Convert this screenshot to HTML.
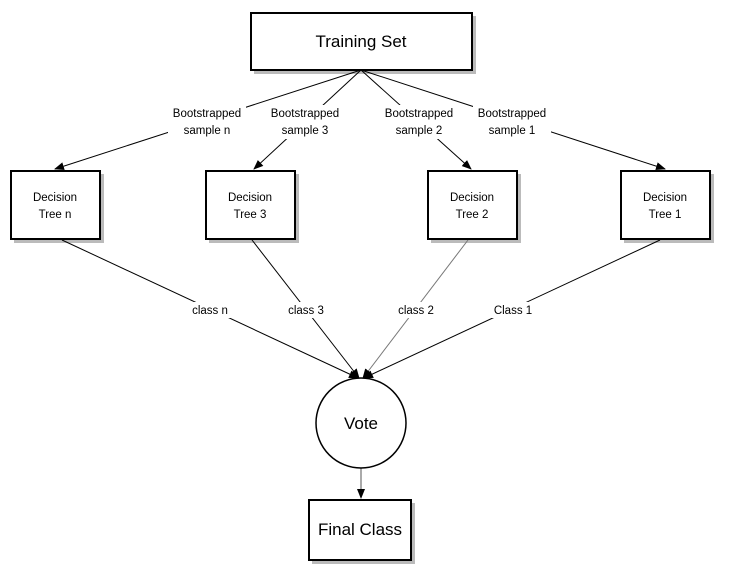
<!DOCTYPE html>
<html><head><style>
body{margin:0;background:#fff;}
svg text{font-family:"Liberation Sans",Arial,sans-serif;fill:#000;}
</style></head><body>
<svg width="730" height="580" viewBox="0 0 730 580" xmlns="http://www.w3.org/2000/svg">
<defs>
<marker id="a" markerWidth="10" markerHeight="10" refX="9" refY="5" orient="auto" markerUnits="userSpaceOnUse">
<path d="M0,1 L10,5 L0,9 z" fill="#000"/>
</marker>
</defs>
<!-- shadows -->
<g fill="#bbb">
<rect x="254" y="16" width="222" height="58"/>
<rect x="14" y="174" width="90" height="69"/>
<rect x="209" y="174" width="90" height="69"/>
<rect x="431" y="174" width="90" height="69"/>
<rect x="624" y="174" width="90" height="69"/>
<rect x="312" y="503" width="103" height="61"/>
</g>
<!-- top connectors -->
<g stroke="#000" stroke-width="1" fill="none">
<line x1="361" y1="70" x2="55" y2="169" marker-end="url(#a)"/>
<line x1="361" y1="70" x2="254" y2="169" marker-end="url(#a)"/>
<line x1="361" y1="70" x2="471" y2="169" marker-end="url(#a)"/>
<line x1="361" y1="70" x2="665" y2="169" marker-end="url(#a)"/>
<line x1="62" y1="240" x2="358" y2="378" marker-end="url(#a)"/>
<line x1="252" y1="240" x2="359" y2="378" marker-end="url(#a)"/>
<line x1="660" y1="240" x2="364" y2="378" marker-end="url(#a)"/>
</g>
<line x1="468" y1="240" x2="363" y2="378" stroke="#777" stroke-width="1" marker-end="url(#a)"/>
<line x1="361" y1="468" x2="361" y2="498" stroke="#555" stroke-width="1" marker-end="url(#a)"/>
<!-- label bgs -->
<g fill="#fff">
<rect x="168" y="105" width="78" height="34"/>
<rect x="266" y="105" width="78" height="34"/>
<rect x="380" y="105" width="78" height="34"/>
<rect x="473" y="105" width="78" height="34"/>
<rect x="186" y="302" width="48" height="16"/>
<rect x="285" y="302" width="42" height="16"/>
<rect x="395" y="302" width="42" height="16"/>
<rect x="491" y="302" width="44" height="16"/>
</g>
<g font-size="11.5" text-anchor="middle">
<text x="207" y="117">Bootstrapped</text><text x="207" y="134">sample n</text>
<text x="305" y="117">Bootstrapped</text><text x="305" y="134">sample 3</text>
<text x="419" y="117">Bootstrapped</text><text x="419" y="134">sample 2</text>
<text x="512" y="117">Bootstrapped</text><text x="512" y="134">sample 1</text>
<text x="210" y="314">class n</text>
<text x="306" y="314">class 3</text>
<text x="416" y="314">class 2</text>
<text x="513" y="314">Class 1</text>
</g>
<!-- boxes -->
<g fill="#fff" stroke="#000" stroke-width="2">
<rect x="251" y="13" width="221" height="57"/>
<rect x="11" y="171" width="89" height="68"/>
<rect x="206" y="171" width="89" height="68"/>
<rect x="428" y="171" width="89" height="68"/>
<rect x="621" y="171" width="89" height="68"/>
<rect x="309" y="500" width="102" height="60"/>
<circle cx="361" cy="423" r="45" stroke-width="1.5"/>
</g>
<g font-size="11.5" text-anchor="middle">
<text x="55" y="201">Decision</text><text x="55" y="218">Tree n</text>
<text x="250" y="201">Decision</text><text x="250" y="218">Tree 3</text>
<text x="472" y="201">Decision</text><text x="472" y="218">Tree 2</text>
<text x="665" y="201">Decision</text><text x="665" y="218">Tree 1</text>
</g>
<text x="361" y="47" font-size="17" text-anchor="middle">Training Set</text>
<text x="361" y="429" font-size="17" text-anchor="middle">Vote</text>
<text x="360" y="535" font-size="17" text-anchor="middle">Final Class</text>
</svg>
</body></html>
